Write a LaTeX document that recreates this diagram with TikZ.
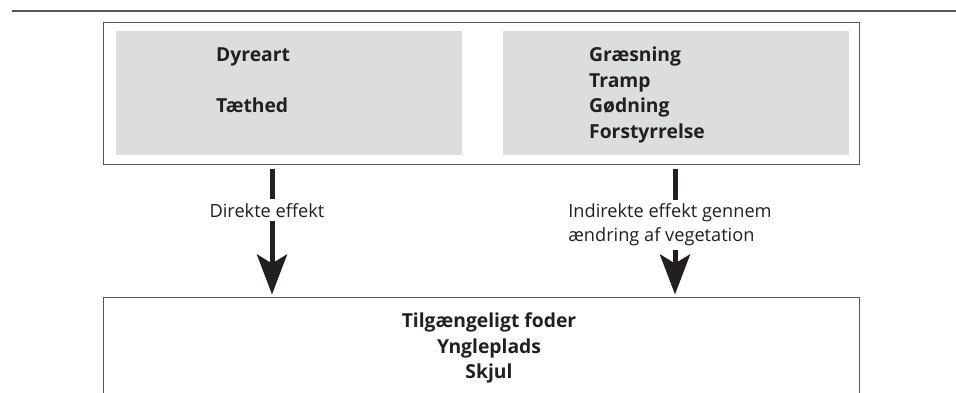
\documentclass[tikz,border=0pt]{standalone}
\usepackage{fontspec}
\setmainfont{Open Sans}
\usetikzlibrary{positioning,calc,arrows.meta}

\definecolor{panelgray}{HTML}{DCDDDE}
\definecolor{framegray}{HTML}{555555}
\definecolor{inkblack}{HTML}{231F20}

\begin{document}
\begin{tikzpicture}[x=1pt, y=-1pt, every node/.style={text=inkblack}]
    \tikzset{frame/.style={rectangle, draw=framegray, line width=1pt, fill=white, inner sep=0pt}}
    \tikzset{panel/.style={rectangle, fill=panelgray, inner sep=0pt, minimum width=346pt, minimum height=124pt}}
    \tikzset{factor/.style={align=left, inner sep=0pt, font=\fontsize{19.3}{25.5}\selectfont\bfseries}}
    \tikzset{lbl/.style={align=left, fill=white, inner xsep=3pt, inner ysep=4pt, xshift=-5pt, font=\fontsize{18.2}{24}\selectfont}}
    \tikzset{arr/.style={draw=inkblack, line width=5pt, -{Stealth[length=40pt, width=30pt, inset=9pt]}, shorten <=4pt, shorten >=2pt}}

    \useasboundingbox (0,0) rectangle (956,392);
    \clip (0,0) rectangle (956,392);

    % rule over the figure
    \draw [framegray, line width=1.5pt] (12,11) -- (956,11);

    % causes
    \node [frame, minimum width=756pt, minimum height=142pt] (top) at (481,93) {};
    \node [panel] (animals) at (289,93) {};
    \node [panel] (impacts) at (676,93) {};
    \node [factor, anchor=north west] (animtxt) at (216,48) {Dyreart\\[25.5pt]Tæthed};
    \node [factor, anchor=north west] (imptxt) at (589,47) {Græsning\\Tramp\\Gødning\\Forstyrrelse};

    % effects
    \node [frame, minimum width=756pt, minimum height=130pt] (bottom) at (481,362) {};
    \node [factor, align=center, anchor=north] (habtxt) at (489,313) {Tilgængeligt foder\\Yngleplads\\Skjul};

    \draw [arr] ([xshift=-209pt]top.south) -- ([xshift=-209pt]bottom.north)
        node [lbl, pos=0.346] (direct) {Direkte effekt};
    \draw [arr] ([xshift=194pt]top.south) -- ([xshift=194pt]bottom.north)
        node [lbl, pos=0.457] (indirect) {Indirekte effekt gennem\\ændring af vegetation};
\end{tikzpicture}
\end{document}
